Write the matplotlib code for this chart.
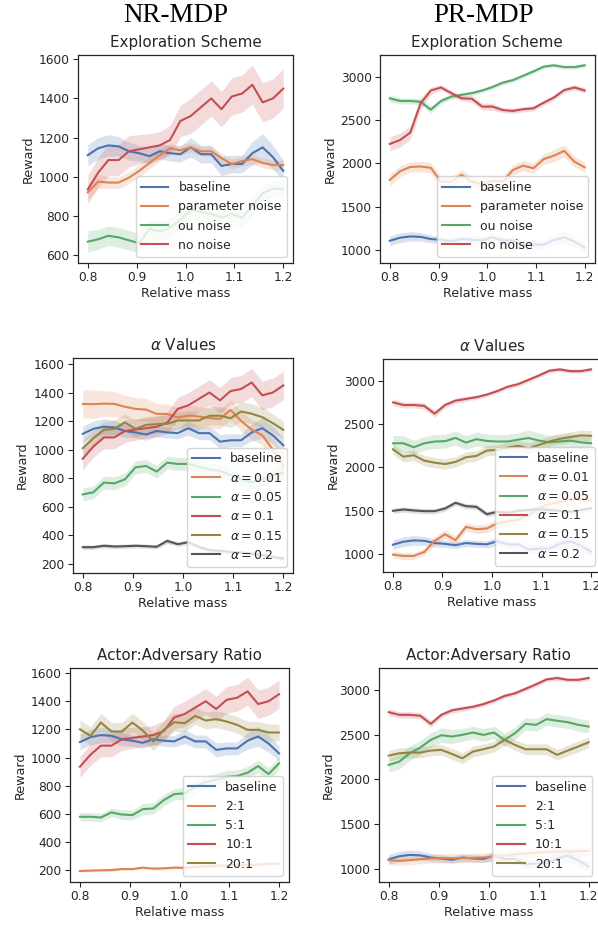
import numpy as np
import matplotlib
matplotlib.use("Agg")
import matplotlib.pyplot as plt

plt.rc('font', family='DejaVu Sans')
plt.rc('text', color='.15')
plt.rc('axes', titlesize=10.9, labelsize=9.2, edgecolor='.15', labelcolor='.15', linewidth=0.9)
plt.rc('xtick', labelsize=8.8, color='.15', direction='out')
plt.rc('ytick', labelsize=8.8, color='.15', direction='out')
plt.rc('legend', fontsize=9.0)

# relative mass grid (20 evaluation points)
mass = np.linspace(0.8, 1.2, 20)

# shared curves
baseline = [1110, 1145, 1160, 1155, 1130, 1120, 1105, 1130, 1120, 1115,
            1150, 1115, 1115, 1055, 1065, 1065, 1120, 1150, 1100, 1030]
baseline_sd = [55, 55, 55, 50, 45, 40, 40, 40, 40, 40,
               50, 45, 45, 50, 45, 45, 60, 70, 60, 55]
nr_main = [935, 1020, 1085, 1085, 1130, 1140, 1150, 1160, 1188, 1285,
           1310, 1355, 1400, 1345, 1410, 1425, 1470, 1380, 1400, 1450]
nr_main_sd = [75, 75, 80, 80, 80, 75, 70, 70, 75, 80,
              90, 90, 90, 90, 95, 95, 100, 100, 100, 100]
pr_main = [2750, 2720, 2720, 2710, 2620, 2720, 2770, 2790, 2810, 2840,
           2880, 2930, 2960, 3010, 3060, 3115, 3130, 3110, 3110, 3130]
pr_main_sd = [40, 35, 35, 35, 40, 30, 30, 30, 25, 25,
              25, 25, 25, 25, 25, 25, 25, 25, 25, 25]

# exploration scheme
nr_param = [920, 975, 970, 970, 995, 1030, 1070, 1110, 1145, 1135,
            1150, 1130, 1130, 1095, 1065, 1080, 1090, 1070, 1060, 1060]
nr_param_sd = [35, 35, 30, 30, 30, 30, 30, 30, 25, 25,
               25, 25, 25, 25, 25, 25, 25, 25, 25, 25]
nr_ou = [668, 680, 698, 690, 675, 660, 735, 720, 740, 780,
         830, 820, 810, 790, 810, 790, 850, 915, 940, 935]
nr_ou_sd = [55, 50, 50, 50, 50, 50, 50, 50, 50, 50,
            50, 50, 50, 50, 50, 50, 50, 40, 40, 40]
pr_param = [1810, 1910, 1960, 1965, 1950, 1790, 1790, 1870, 1790, 1760,
            1800, 1790, 1925, 1975, 1945, 2050, 2090, 2145, 2020, 1955]
pr_param_sd = [70, 60, 60, 60, 60, 60, 60, 60, 60, 60,
               60, 60, 60, 60, 60, 60, 70, 70, 60, 60]
pr_nonoise = [2225, 2270, 2355, 2690, 2840, 2875, 2810, 2750, 2745, 2655,
              2655, 2615, 2605, 2625, 2635, 2700, 2760, 2845, 2875, 2840]
pr_nonoise_sd = [80, 80, 80, 70, 40, 30, 30, 30, 40, 40,
                 40, 30, 30, 30, 30, 30, 30, 30, 30, 30]

# alpha values
nr_a001 = [1320, 1318, 1322, 1320, 1300, 1285, 1280, 1250, 1250, 1225,
           1238, 1232, 1220, 1215, 1278, 1200, 1140, 1100, 1000, 885]
nr_a001_sd = [100, 100, 90, 90, 80, 80, 80, 70, 70, 70,
              70, 70, 70, 70, 70, 70, 70, 70, 80, 90]
nr_a005 = [685, 700, 768, 763, 791, 875, 885, 845, 908, 899,
           899, 880, 860, 850, 820, 790, 770, 790, 820, 838]
nr_a005_sd = [45, 45, 45, 45, 45, 45, 45, 45, 45, 45,
              45, 45, 45, 45, 45, 45, 45, 45, 45, 45]
nr_a015 = [1009, 1079, 1138, 1145, 1190, 1145, 1173, 1178, 1180, 1204,
           1204, 1204, 1237, 1237, 1220, 1267, 1251, 1227, 1185, 1138]
nr_a015_sd = [60, 60, 60, 60, 60, 60, 60, 60, 60, 60,
              65, 65, 65, 65, 65, 70, 70, 70, 65, 60]
nr_a02 = [315, 315, 325, 320, 322, 325, 322, 318, 359, 336,
          350, 317, 294, 289, 282, 277, 270, 259, 247, 235]
nr_a02_sd = [15, 15, 15, 15, 15, 15, 15, 15, 18, 15,
             18, 15, 15, 15, 15, 15, 15, 15, 15, 15]
pr_a001 = [996, 981, 981, 1027, 1154, 1231, 1162, 1316, 1289, 1297,
           1355, 1380, 1400, 1450, 1530, 1580, 1600, 1640, 1630, 1620]
pr_a001_sd = [40, 40, 40, 40, 50, 50, 50, 50, 50, 50,
              50, 50, 50, 50, 50, 50, 50, 50, 50, 50]
pr_a005 = [2279, 2279, 2233, 2279, 2299, 2303, 2341, 2287, 2326, 2306,
           2299, 2300, 2320, 2340, 2310, 2290, 2300, 2310, 2290, 2280]
pr_a005_sd = [90, 90, 80, 80, 80, 80, 80, 80, 80, 80,
              80, 80, 80, 90, 90, 80, 80, 80, 80, 80]
pr_a015 = [2210, 2125, 2141, 2079, 2056, 2040, 2064, 2118, 2133, 2195,
           2202, 2230, 2250, 2220, 2260, 2300, 2330, 2350, 2370, 2365]
pr_a015_sd = [60, 60, 60, 60, 60, 60, 60, 60, 60, 60,
              60, 60, 60, 60, 60, 60, 60, 60, 60, 60]
pr_a02 = [1501, 1516, 1505, 1497, 1497, 1528, 1593, 1555, 1547, 1462,
          1489, 1480, 1500, 1510, 1520, 1510, 1500, 1490, 1510, 1530]
pr_a02_sd = [30, 30, 30, 30, 30, 30, 30, 30, 30, 30,
             30, 30, 30, 30, 30, 30, 30, 30, 30, 30]

# actor:adversary ratio
nr_r2 = [195, 198, 200, 202, 209, 209, 219, 212, 214, 219,
         218, 225, 228, 232, 235, 238, 240, 240, 248, 247]
nr_r2_sd = [10, 10, 10, 10, 10, 10, 10, 10, 10, 10,
            10, 10, 10, 10, 10, 10, 10, 10, 10, 10]
nr_r5 = [580, 580, 575, 611, 596, 592, 634, 639, 698, 741,
         746, 793, 829, 841, 864, 869, 893, 940, 883, 959]
nr_r5_sd = [30, 30, 30, 30, 35, 35, 40, 40, 40, 40,
            45, 45, 45, 45, 45, 45, 45, 45, 45, 45]
nr_r20 = [1201, 1154, 1249, 1185, 1185, 1249, 1192, 1114, 1197, 1251,
          1244, 1296, 1263, 1273, 1256, 1232, 1197, 1197, 1178, 1178]
nr_r20_sd = [65, 65, 65, 65, 65, 65, 65, 65, 65, 65,
             60, 60, 60, 60, 60, 60, 60, 60, 60, 60]
pr_r2 = [1101, 1093, 1101, 1112, 1119, 1123, 1123, 1123, 1127, 1130,
         1138, 1150, 1165, 1175, 1185, 1190, 1195, 1200, 1200, 1205]
pr_r2_sd = [50, 50, 50, 50, 50, 50, 50, 50, 50, 50,
            50, 50, 50, 50, 50, 50, 50, 50, 50, 50]
pr_r5 = [2162, 2199, 2292, 2356, 2441, 2493, 2479, 2497, 2523, 2497,
         2523, 2441, 2516, 2620, 2609, 2672, 2654, 2639, 2609, 2590]
pr_r5_sd = [80, 80, 80, 80, 80, 80, 80, 70, 70, 70,
            70, 70, 70, 70, 70, 70, 70, 70, 70, 70]
pr_r20 = [2266, 2292, 2300, 2300, 2322, 2330, 2285, 2236, 2311, 2337,
          2367, 2441, 2385, 2337, 2337, 2337, 2274, 2322, 2367, 2415]
pr_r20_sd = [60, 60, 60, 60, 60, 60, 60, 60, 60, 60,
             60, 60, 60, 60, 60, 60, 60, 60, 60, 60]

explore_labels = ['baseline', 'parameter noise', 'ou noise', 'no noise']
alpha_labels = ['baseline', r'$\alpha = 0.01$', r'$\alpha = 0.05$',
                r'$\alpha = 0.1$', r'$\alpha = 0.15$', r'$\alpha = 0.2$']
ratio_labels = ['baseline', '2:1', '5:1', '10:1', '20:1']

colors = ['#4c72b0', '#dd8452', '#55a868', '#c44e52', '#948540', '#555555']

W, H = 598, 925
fig = plt.figure(figsize=(W / 100, H / 100), dpi=100)


def add_ax(left, top, right, bottom):
    return fig.add_axes([left / W, 1 - bottom / H, (right - left) / W, (bottom - top) / H])


def panel(ax, title, labels, means, sds, ylim):
    for i, (lab, m, s) in enumerate(zip(labels, means, sds)):
        m = np.array(m)
        s = np.array(s)
        ax.plot(mass, m, color=colors[i], lw=1.5, label=lab)
        ax.fill_between(mass, m - s, m + s, color=colors[i], alpha=0.2, lw=0)
    ax.set_title(title)
    ax.set_xlabel('Relative mass', labelpad=2)
    ax.set_ylabel('Reward', labelpad=3)
    ax.set_ylim(*ylim)
    ax.set_xticks([0.8, 0.9, 1.0, 1.1, 1.2])
    ax.tick_params(length=3.5, width=0.8, pad=2.5)
    leg = ax.legend(loc='lower right', framealpha=0.8, handlelength=2.2)
    leg.get_frame().set_edgecolor('0.8')


ax1 = add_ax(78, 55, 293, 263)
panel(ax1, 'Exploration Scheme', explore_labels,
      [baseline, nr_param, nr_ou, nr_main],
      [baseline_sd, nr_param_sd, nr_ou_sd, nr_main_sd], (559, 1622))

ax2 = add_ax(380, 55, 594.5, 263)
panel(ax2, 'Exploration Scheme', explore_labels,
      [baseline, pr_param, pr_main, pr_nonoise],
      [baseline_sd, pr_param_sd, pr_main_sd, pr_nonoise_sd], (854, 3249))

ax3 = add_ax(72.7, 358, 293.4, 573)
panel(ax3, r'$\alpha$ Values', alpha_labels,
      [baseline, nr_a001, nr_a005, nr_main, nr_a015, nr_a02],
      [baseline_sd, nr_a001_sd, nr_a005_sd, nr_main_sd, nr_a015_sd, nr_a02_sd], (134, 1642))

ax4 = add_ax(383, 359, 601, 572)
panel(ax4, r'$\alpha$ Values', alpha_labels,
      [baseline, pr_a001, pr_a005, pr_main, pr_a015, pr_a02],
      [baseline_sd, pr_a001_sd, pr_a005_sd, pr_main_sd, pr_a015_sd, pr_a02_sd], (796, 3250))

ax5 = add_ax(70, 668, 289, 882)
panel(ax5, 'Actor:Adversary Ratio', ratio_labels,
      [baseline, nr_r2, nr_r5, nr_main, nr_r20],
      [baseline_sd, nr_r2_sd, nr_r5_sd, nr_main_sd, nr_r20_sd], (117, 1636))

ax6 = add_ax(378.7, 668, 598.7, 882)
panel(ax6, 'Actor:Adversary Ratio', ratio_labels,
      [baseline, pr_r2, pr_r5, pr_main, pr_r20],
      [baseline_sd, pr_r2_sd, pr_r5_sd, pr_main_sd, pr_r20_sd], (858, 3242))

fig.text(176 / W, 1 - 16 / H, 'NR-MDP', family='Liberation Serif', fontsize=19.5,
         color='black', ha='center', va='center')
fig.text(484 / W, 1 - 16 / H, 'PR-MDP', family='Liberation Serif', fontsize=19.5,
         color='black', ha='center', va='center')

plt.savefig('out.png', dpi=100)
